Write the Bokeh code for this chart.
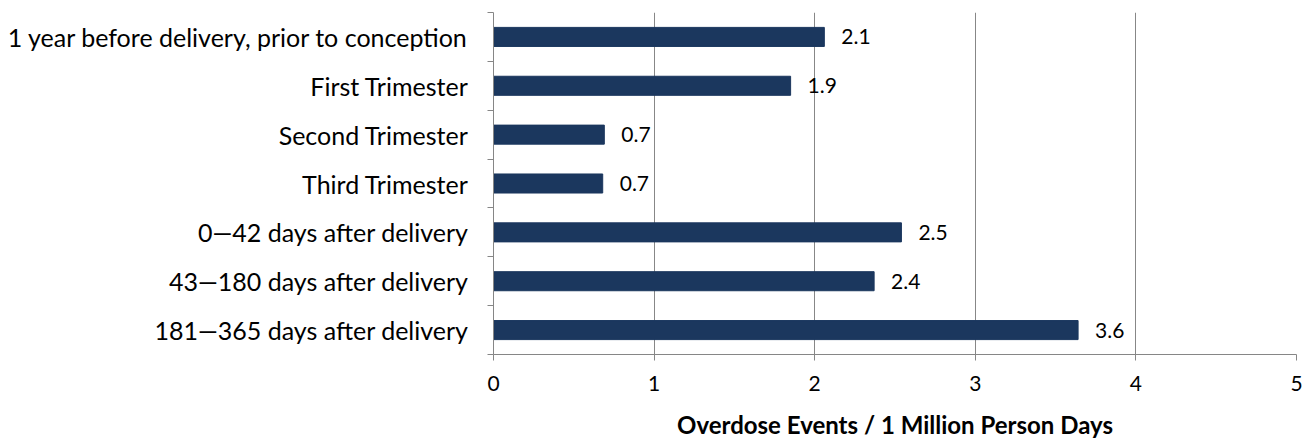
from bokeh.plotting import figure
from bokeh.models import ColumnDataSource, Range1d, FixedTicker, LabelSet
from bokeh.core.properties import value
from bokeh.embed import file_html
from bokeh.resources import INLINE

categories = [
    "1 year before delivery, prior to conception",
    "First Trimester",
    "Second Trimester",
    "Third Trimester",
    "0\u201442 days after delivery",
    "43\u2014180 days after delivery",
    "181\u2014365 days after delivery",
]
values = [2.06, 1.85, 0.69, 0.68, 2.54, 2.37, 3.64]
value_labels = ["2.1", "1.9", "0.7", "0.7", "2.5", "2.4", "3.6"]
x_ticks = [0, 1, 2, 3, 4, 5]

FONT = "Lato"
positions = list(range(len(categories)))

src = ColumnDataSource(dict(y=positions, v=values, lab=value_labels))

p = figure(width=1303, height=445, output_backend="svg", toolbar_location=None,
           x_range=Range1d(0, 5), y_range=Range1d(len(categories) - 0.5, -0.5),
           min_border_left=493, min_border_right=7, min_border_top=12, min_border_bottom=91)
p.outline_line_color = None
p.background_fill_color = "white"

p.hbar(y="y", right="v", left=0, height=0.39, source=src,
       fill_color="#1B375E", line_color="#1B375E")

labels = LabelSet(x="v", y="y", text="lab", source=src, x_offset=17,
                  text_baseline="middle", text_align="left",
                  text_font=value(FONT), text_font_size="21px", text_color="black")
p.add_layout(labels)

# x axis
p.xaxis.ticker = FixedTicker(ticks=x_ticks)
p.xaxis.axis_line_color = "#868686"
p.xaxis.major_tick_line_color = "#868686"
p.xaxis.major_tick_out = 6
p.xaxis.major_tick_in = 0
p.xaxis.minor_tick_line_color = None
p.xaxis.major_label_text_font = FONT
p.xaxis.major_label_text_font_size = "21px"
p.xaxis.major_label_text_color = "black"
p.xaxis.major_label_standoff = 15
p.xaxis.axis_label = "Overdose Events / 1 Million Person Days"
p.xaxis.axis_label_text_font = FONT
p.xaxis.axis_label_text_font_size = "24px"
p.xaxis.axis_label_text_font_style = "bold"
p.xaxis.axis_label_text_color = "black"
p.xaxis.axis_label_standoff = 16

# y axis: labels at category centres, tick marks at category boundaries
bounds = [i - 0.5 for i in range(len(categories) + 1)]
p.yaxis.ticker = FixedTicker(ticks=positions, minor_ticks=bounds)
p.yaxis.major_label_overrides = {i: c for i, c in zip(positions, categories)}
p.yaxis.axis_line_color = "#868686"
p.yaxis.major_tick_line_color = None
p.yaxis.minor_tick_line_color = "#868686"
p.yaxis.minor_tick_out = 6
p.yaxis.minor_tick_in = 0
p.yaxis.major_label_text_font = FONT
p.yaxis.major_label_text_font_size = "25px"
p.yaxis.major_label_text_color = "black"
p.yaxis.major_label_standoff = 19

p.xgrid.ticker = FixedTicker(ticks=x_ticks)
p.xgrid.grid_line_color = "#878787"
p.xgrid.grid_line_width = 1
p.ygrid.grid_line_color = None

open("out.html", "w").write(file_html(p, INLINE))
